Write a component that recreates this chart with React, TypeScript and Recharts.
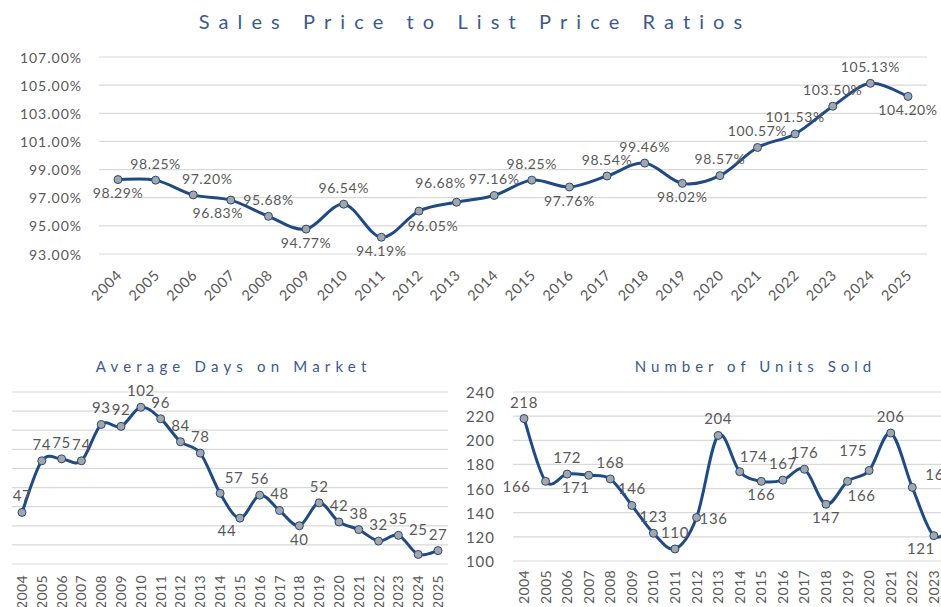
import React from 'react';
import { LineChart, Line, XAxis, YAxis, CartesianGrid } from 'recharts';

const years = ['2004','2005','2006','2007','2008','2009','2010','2011','2012','2013','2014','2015','2016','2017','2018','2019','2020','2021','2022','2023','2024','2025'];

const ratioValues = [98.29, 98.25, 97.20, 96.83, 95.68, 94.77, 96.54, 94.19, 96.05, 96.68, 97.16, 98.25, 97.76, 98.54, 99.46, 98.02, 98.57, 100.57, 101.53, 103.50, 105.13, 104.20];
const domValues = [47, 74, 75, 74, 93, 92, 102, 96, 84, 78, 57, 44, 56, 48, 40, 52, 42, 38, 32, 35, 25, 27];
const unitsValues = [218, 166, 172, 171, 168, 146, 123, 110, 136, 204, 174, 166, 167, 176, 147, 166, 175, 206, 161, 121, 130, 135];

const ratioTicks = [93, 95, 97, 99, 101, 103, 105, 107];
const domTicks = [20, 30, 40, 50, 60, 70, 80, 90, 100, 110];
const unitsTicks = [100, 120, 140, 160, 180, 200, 220, 240];

const ratioTitle = 'Sales Price to List Price Ratios';
const domTitle = 'Average Days on Market';
const unitsTitle = 'Number of Units Sold';

// label placement keys (styling only)
const ratioLabelPos = ['b','t','tr','bl','t','b','t','b','br','tl','t','t','b','t','t','b','t','t','t','t','t','b'];
const domLabelPos = ['t','t','t','t','t','t','t','t','t','t','tr','bl','t','t','b','t','t','t','t','t','T','t'];
const unitsLabelPos = ['t','l','t','bl','t','t','t','t','r','t','tr','b','t','t','b','br','tl','t','rt','bl','r','r'];

const OFF: Record<string, [number, number]> = {
  t: [0, -17], T: [0, -25], b: [0, 13], l: [-29, 5], r: [17, 0],
  tr: [14, -16], tl: [-16, -20], br: [14, 14], bl: [-13, 12], rt: [27, -13],
};

const LINE = '#1F4A84';
const DOT = '#A6A6A6';
const TEXT = '#595959';
const TITLE = '#3A5A8E';
const GRID = '#D9D9D9';
const FONT = 'Lato, "Noto Sans", sans-serif';

const ratioData = years.map((y, i) => ({ year: y, v: ratioValues[i] }));
const domData = years.map((y, i) => ({ year: y, v: domValues[i] }));
const unitsData = years.map((y, i) => ({ year: y, v: unitsValues[i] }));

// Excel-like smoothed line (Catmull-Rom bezier)
const smoothCurve = (context: any) => {
  let pts: number[][] = [];
  return {
    areaStart() {},
    areaEnd() {},
    lineStart() { pts = []; },
    point(x: number, y: number) { pts.push([+x, +y]); },
    lineEnd() {
      const n = pts.length;
      if (!n) return;
      context.moveTo(pts[0][0], pts[0][1]);
      for (let i = 0; i < n - 1; i++) {
        const p0 = pts[Math.max(i - 1, 0)];
        const p1 = pts[i];
        const p2 = pts[i + 1];
        const p3 = pts[Math.min(i + 2, n - 1)];
        context.bezierCurveTo(
          p1[0] + (p2[0] - p0[0]) / 6, p1[1] + (p2[1] - p0[1]) / 6,
          p2[0] - (p3[0] - p1[0]) / 6, p2[1] - (p3[1] - p1[1]) / 6,
          p2[0], p2[1]
        );
      }
    },
  };
};

const makeDot = (pos: string[], fmt: (v: number) => string, fontSize: number) => (props: any) => {
  const { cx, cy, index, value } = props;
  if (cx == null || cy == null) return <g key={index} />;
  const v = Array.isArray(value) ? value[1] : value;
  const [dx, dy] = OFF[pos[index]] || OFF.t;
  return (
    <g key={`d${index}`}>
      <circle cx={cx} cy={cy} r={4} fill={DOT} stroke={LINE} strokeWidth={1} />
      <text x={cx + dx} y={cy + dy} textAnchor="middle" dominantBaseline="central"
        fontSize={fontSize} letterSpacing={0.6} fill={TEXT} fontFamily={FONT}>{fmt(v)}</text>
    </g>
  );
};

const Rot45Tick = (props: any) => {
  const { x, y, payload } = props;
  const ax = x + 5, ay = y + 22;
  return (
    <text x={ax} y={ay} textAnchor="end" transform={`rotate(-45, ${ax}, ${ay})`}
      fontSize={14.5} letterSpacing={0.7} fill={TEXT} fontFamily={FONT}>{payload.value}</text>
  );
};

const makeRot90Tick = (gap: number) => (props: any) => {
  const { x, y, payload } = props;
  const ax = x + 5, ay = y + gap;
  return (
    <text x={ax} y={ay} textAnchor="end" transform={`rotate(-90, ${ax}, ${ay})`}
      fontSize={14} letterSpacing={0.4} fill={TEXT} fontFamily={FONT}>{payload.value}</text>
  );
};

const makeYTick = (shift: number, fmt: (v: number) => string, fontSize: number) => (props: any) => {
  const { x, y, payload } = props;
  return (
    <text x={x - shift} y={y} textAnchor="end" dominantBaseline="central"
      fontSize={fontSize} letterSpacing={1} fill={TEXT} fontFamily={FONT}>{fmt(payload.value)}</text>
  );
};

const Title = ({ text, left, top, width, size, spacing }: any) => (
  <div style={{
    position: 'absolute', left, top, width, textAlign: 'center', fontFamily: FONT,
    fontSize: size, letterSpacing: spacing, paddingLeft: spacing, boxSizing: 'border-box',
    color: TITLE, lineHeight: '1', whiteSpace: 'nowrap',
  }}>{text}</div>
);

export default function App() {
  return (
    <div style={{ position: 'absolute', left: 0, top: 0, width: 941, height: 607, overflow: 'hidden', background: '#fff' }}>
      <Title text={ratioTitle} left={0} top={11} width={941} size={20} spacing={9.1} />
      <div style={{ position: 'absolute', left: 0, top: 0 }}>
        <LineChart width={941} height={310} data={ratioData} margin={{ top: 57, right: 14, bottom: 0, left: 0 }}>
          <CartesianGrid vertical={false} stroke={GRID} strokeWidth={1.2} />
          <XAxis dataKey="year" interval={0} tickLine={false} axisLine={false} height={56}
            tickSize={0} tickMargin={0} padding={{ left: 19, right: 19 }} tick={<Rot45Tick />} />
          <YAxis domain={[93, 107]} ticks={ratioTicks} interval={0} width={99} tickLine={false} axisLine={false}
            tickSize={0} tickMargin={0} tick={makeYTick(17, (v) => `${v.toFixed(2)}%`, 14)} />
          <Line dataKey="v" type={smoothCurve as any} stroke={LINE} strokeWidth={3} isAnimationActive={false}
            dot={makeDot(ratioLabelPos, (v) => `${v.toFixed(2)}%`, 14)} activeDot={false} />
        </LineChart>
      </div>

      <Title text={domTitle} left={0} top={359} width={462} size={15} spacing={5.2} />
      <div style={{ position: 'absolute', left: 0, top: 340 }}>
        <LineChart width={460} height={280} data={domData} margin={{ top: 52, right: 12, bottom: 0, left: 12 }}>
          <CartesianGrid vertical={false} stroke={GRID} strokeWidth={1.2} />
          <XAxis dataKey="year" interval={0} tickLine={false} axisLine={false} height={56}
            tickSize={0} tickMargin={0} padding={{ left: 10, right: 10 }} tick={makeRot90Tick(11)} />
          <YAxis hide domain={[20, 110]} ticks={domTicks} interval={0} width={0} />
          <Line dataKey="v" type={smoothCurve as any} stroke={LINE} strokeWidth={3} isAnimationActive={false}
            dot={makeDot(domLabelPos, (v) => `${v}`, 15)} activeDot={false} />
        </LineChart>
      </div>

      <Title text={unitsTitle} left={600} top={359} width={306} size={15} spacing={5} />
      <div style={{ position: 'absolute', left: 455, top: 340 }}>
        <LineChart width={540} height={280} data={unitsData} margin={{ top: 52, right: 7, bottom: 0, left: 0 }}>
          <CartesianGrid vertical={false} stroke={GRID} strokeWidth={1.2} />
          <XAxis dataKey="year" interval={0} tickLine={false} axisLine={false} height={59}
            tickSize={0} tickMargin={0} padding={{ left: 11, right: 11 }} tick={makeRot90Tick(9)} />
          <YAxis domain={[100, 240]} ticks={unitsTicks} interval={0} width={58} tickLine={false} axisLine={false}
            tickSize={0} tickMargin={0} tick={makeYTick(18, (v) => `${v}`, 15)} />
          <Line dataKey="v" type={smoothCurve as any} stroke={LINE} strokeWidth={3} isAnimationActive={false}
            dot={makeDot(unitsLabelPos, (v) => `${v}`, 15)} activeDot={false} />
        </LineChart>
      </div>
    </div>
  );
}
